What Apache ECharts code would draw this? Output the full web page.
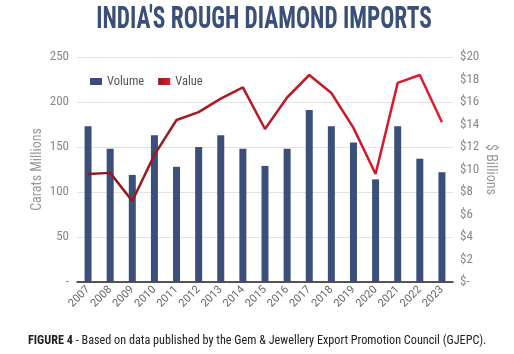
<!DOCTYPE html>
<html><head><meta charset="utf-8">
<script src="https://cdn.jsdelivr.net/npm/echarts@6/dist/echarts.min.js"></script>
<style>html,body{margin:0;padding:0;background:#fff}#c{width:514px;height:354px}</style>
</head><body><div id="c"></div>
<script>
const years = ['2007','2008','2009','2010','2011','2012','2013','2014','2015','2016','2017','2018','2019','2020','2021','2022','2023'];
const volume = [173, 148, 119, 163, 128, 150, 163, 148, 129, 148, 191, 173, 155, 114, 173, 137, 122];
const value = [9.6, 9.7, 7.2, 11.3, 14.4, 15.1, 16.3, 17.3, 13.6, 16.4, 18.4, 16.8, 13.7, 9.6, 17.7, 18.4, 14.2];
const leftTicks = {min: 0, max: 250, interval: 50};
const rightTicks = {min: 0, max: 20, interval: 2};

const F = '"Roboto Condensed", sans-serif';
const chart = echarts.init(document.getElementById('c'));
const lineGrad = new echarts.graphic.LinearGradient(0, 0, 1, 0, [
  {offset: 0, color: '#8a1a1e'}, {offset: 1, color: '#e51a2d'}
]);
chart.setOption({
  animation: false,
  title: [{
    text: '{b|FIGURE 4} - Based on data published by the Gem & Jewellery Export Promotion Council (GJEPC).',
    left: 23, top: 330,
    textStyle: {fontFamily: F, fontWeight: 'normal', fontSize: 12.2, color: '#222',
      rich: {b: {fontFamily: F, fontWeight: 'bold', fontSize: 12.2, color: '#222'}}}
  }],
  graphic: [{
    type: 'text', x: 264, y: 20, scaleX: 0.73, scaleY: 1,
    style: {text: "INDIA'S ROUGH DIAMOND IMPORTS", font: 'bold 32px "Roboto Condensed"',
      fill: '#3b4f7b', align: 'center', verticalAlign: 'middle'}
  }],
  legend: {
    left: 85, top: 70, itemWidth: 12, itemHeight: 7, itemGap: 14,
    textStyle: {fontFamily: F, fontSize: 12.5, color: '#555'},
    data: [{name: 'Volume', icon: 'rect'}, {name: 'Value', icon: 'rect'}]
  },
  grid: {left: 77, right: 61, top: 57, bottom: 72},
  xAxis: {
    type: 'category', data: years,
    axisLine: {lineStyle: {color: '#222', width: 1.5}},
    axisTick: {show: false},
    axisLabel: {rotate: 45, interval: 0, fontFamily: 'Roboto, sans-serif', fontSize: 11, color: '#666', margin: 6}
  },
  yAxis: [{
    type: 'value', min: leftTicks.min, max: leftTicks.max, interval: leftTicks.interval,
    name: 'Carats Millions', nameLocation: 'middle', nameGap: 33, nameMoveOverlap: false,
    nameTextStyle: {fontFamily: F, fontSize: 14, color: '#999'},
    axisLabel: {fontFamily: F, fontSize: 13, color: '#888', margin: 8,
      formatter: v => v === 0 ? '-' : String(v)},
    splitLine: {lineStyle: {color: '#e3e3e3'}},
    axisLine: {show: false}, axisTick: {show: false}
  }, {
    type: 'value', min: rightTicks.min, max: rightTicks.max, interval: rightTicks.interval,
    name: '$ Billions', nameLocation: 'middle', nameGap: 30, nameRotate: -90, nameMoveOverlap: false,
    nameTextStyle: {fontFamily: F, fontSize: 14, color: '#999'},
    axisLabel: {fontFamily: F, fontSize: 13, color: '#888', margin: 7,
      formatter: v => v === 0 ? '$-' : '$' + v},
    splitLine: {show: false}, axisLine: {show: false}, axisTick: {show: false}
  }],
  series: [{
    name: 'Volume', type: 'bar', data: volume, barWidth: 7,
    itemStyle: {color: '#3b4f7b'}
  }, {
    name: 'Value', type: 'line', yAxisIndex: 1, data: value,
    symbol: 'none', lineStyle: {width: 2.5, color: lineGrad},
    itemStyle: {color: lineGrad}
  }]
});
</script></body></html>
